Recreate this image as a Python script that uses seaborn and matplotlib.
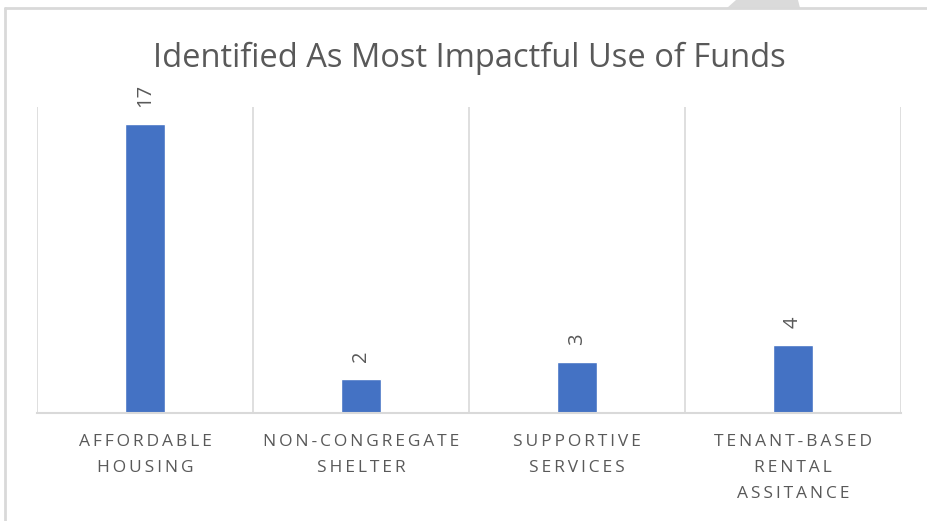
import matplotlib
matplotlib.use("Agg")
import matplotlib.pyplot as plt
import matplotlib.patches as mpatches
import pandas as pd
import seaborn as sns

# datos
categorias = ["AFFORDABLE\nHOUSING", "NON-CONGREGATE\nSHELTER",
              "SUPPORTIVE\nSERVICES", "TENANT-BASED\nRENTAL\nASSITANCE"]
valores = [17, 2, 3, 4]
titulo = "Identified As Most Impactful Use of Funds"

AZUL = "#4472C4"
GRIS_TEXTO = "#595959"
GRIS_LINEA = "#D9D9D9"


def espaciar(texto, sep="\u2009"):
    # imita el espaciado entre letras de Excel
    return "\n".join(sep.join(linea) for linea in texto.split("\n"))


df = pd.DataFrame({"categoria": categorias, "valor": valores})

sns.set_theme(style="white")
plt.rcParams["font.family"] = ["Open Sans", "DejaVu Sans"]

fig = plt.figure(figsize=(9.27, 5.21), dpi=100)
ax = fig.add_axes([37 / 927, 1 - 413 / 521, (901 - 37) / 927, (413 - 107) / 521])

sns.barplot(data=df, x="categoria", y="valor", color=AZUL, width=0.185,
            saturation=1, ax=ax)

ax.set_ylim(0, 18)
ax.set_xlim(-0.5, len(categorias) - 0.5)

# lineas verticales entre categorias
for x in [i - 0.5 for i in range(len(categorias) + 1)]:
    ax.axvline(x, color=GRIS_LINEA, lw=1.2, zorder=0)

for s in ["top", "left", "right"]:
    ax.spines[s].set_visible(False)
ax.spines["bottom"].set_color(GRIS_LINEA)
ax.spines["bottom"].set_linewidth(1.5)

ax.set_yticks([])
ax.set_xlabel("")
ax.set_ylabel("")
ax.set_xticks(range(len(categorias)))
ax.set_xticklabels([espaciar(c) for c in categorias], color=GRIS_TEXTO,
                   fontsize=12.5, linespacing=1.85, va="top")
ax.tick_params(axis="x", length=0, pad=15)

# etiquetas de datos giradas
for i, v in enumerate(valores):
    ax.annotate(str(v), (i, v), xytext=(0, 12), textcoords="offset points",
                rotation=90, ha="center", va="bottom", color=GRIS_TEXTO,
                fontsize=14.5)

ax.set_title(titulo, fontsize=23.5, color=GRIS_TEXTO, pad=29)

# borde del grafico y marca gris arriba
fig.add_artist(plt.Line2D([5 / 927, 1], [1 - 8 / 521, 1 - 8 / 521],
                          transform=fig.transFigure, color=GRIS_LINEA, lw=2))
fig.add_artist(plt.Line2D([5 / 927, 5 / 927], [0, 1 - 8 / 521],
                          transform=fig.transFigure, color=GRIS_LINEA, lw=2))
pts = [(727, 8), (736, 0), (798, 0), (800, 8)]
fig.add_artist(mpatches.Polygon([(x / 927, 1 - y / 521) for x, y in pts],
                                closed=True, transform=fig.transFigure,
                                color="#DADADA", lw=0))

fig.savefig("out.png", dpi=100)
